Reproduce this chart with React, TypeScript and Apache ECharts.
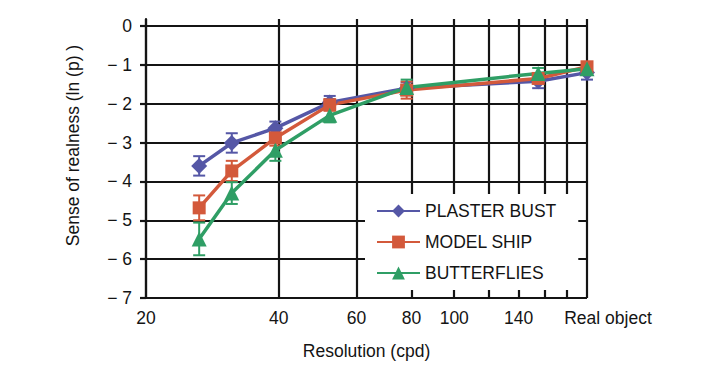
import React, { useEffect, useRef } from "react";
import * as echarts from "echarts";

// Resolution (cpd) of each condition; the last one is the real object
const resolutions = [26.4, 31.3, 39.3, 52.2, 78, 155, 200];
const xTickValues = [20, 40, 60, 80, 100, 120, 140, 160, 180, 200];
const xLabelValues = [20, 40, 60, 80, 100, 140, 200];
const realObjectLabel = "Real object";
const yTickValues = [-7, -6, -5, -4, -3, -2, -1, 0];

const seriesNames = ["PLASTER BUST", "MODEL SHIP", "BUTTERFLIES"];
const plasterBust = [-3.6, -3.01, -2.63, -1.97, -1.6, -1.42, -1.2];
const plasterBustErr = [0.25, 0.25, 0.17, 0.17, 0.15, 0.18, 0.18];
const modelShip = [-4.68, -3.73, -2.88, -2.03, -1.65, -1.35, -1.05];
const modelShipErr = [0.32, 0.26, 0.2, 0.15, 0.22, 0.1, 0.1];
const butterflies = [-5.48, -4.3, -3.2, -2.3, -1.58, -1.22, -1.1];
const butterfliesErr = [0.42, 0.28, 0.27, 0.18, 0.2, 0.14, 0.1];

const toLog = (v: number) => Math.log10(v);

export default function App() {
  const ref = useRef<HTMLDivElement>(null);
  useEffect(() => {
    const chart = echarts.init(ref.current!, null, { renderer: "svg" });
    const font = "'Liberation Sans', Arial, Helvetica, sans-serif";
    const ink = "#141414";
    const fs = 17.5;
    const colors = ["#5557a6", "#d3593b", "#2f9e65"];
    const symbols = ["diamond", "rect", "triangle"];
    const symbolSizes = [16, 13, 15];
    const values = [plasterBust, modelShip, butterflies];
    const errs = [plasterBustErr, modelShipErr, butterfliesErr];
    const xMin = toLog(20);
    const xMax = toLog(200);
    const EPS = 1e-9;
    const inX = (v: number) => Math.min(Math.max(toLog(v), xMin + EPS), xMax - EPS);

    const series: any[] = [];
    values.forEach((vals, i) => {
      series.push({
        type: "custom",
        name: seriesNames[i] + " error",
        silent: true,
        clip: false,
        renderItem: (params: any, api: any) => {
          const x = api.value(0);
          const lo = api.value(1);
          const hi = api.value(2);
          const pLo = api.coord([x, lo]);
          const pHi = api.coord([x, hi]);
          const half = 6;
          const style = { stroke: colors[i], lineWidth: 2 };
          return {
            type: "group",
            children: [
              { type: "line", shape: { x1: pLo[0], y1: pLo[1], x2: pHi[0], y2: pHi[1] }, style },
              { type: "line", shape: { x1: pLo[0] - half, y1: pLo[1], x2: pLo[0] + half, y2: pLo[1] }, style },
              { type: "line", shape: { x1: pHi[0] - half, y1: pHi[1], x2: pHi[0] + half, y2: pHi[1] }, style },
            ],
          };
        },
        encode: { x: 0, y: [1, 2] },
        data: vals.map((v, j) => [toLog(resolutions[j]), v - errs[i][j], v + errs[i][j]]),
      });
      series.push({
        type: "line",
        name: seriesNames[i],
        clip: false,
        data: vals.map((v, j) => [toLog(resolutions[j]), v]),
        symbol: symbols[i],
        symbolSize: symbolSizes[i],
        lineStyle: { color: colors[i], width: 3.5 },
        itemStyle: { color: colors[i] },
      });
    });

    chart.setOption({
      animation: false,
      backgroundColor: "#ffffff",
      textStyle: { fontFamily: font },
      grid: { left: 146, right: 114, top: 19, bottom: 83, containLabel: false, outerBoundsMode: "none" },
      legend: {
        data: seriesNames,
        orient: "vertical",
        left: 365,
        top: 194,
        backgroundColor: "#ffffff",
        padding: [8, 22, 8, 11],
        itemWidth: 43,
        itemHeight: 16,
        itemGap: 13,
        textStyle: { fontSize: fs, color: ink, fontFamily: font },
      },
      xAxis: {
        type: "value",
        min: xMin,
        max: xMax,
        name: "Resolution (cpd)",
        nameLocation: "middle",
        nameGap: 44,
        nameTextStyle: { fontSize: fs, color: ink, fontFamily: font },
        axisLine: { show: true, lineStyle: { color: ink, width: 2.2 } },
        axisTick: { show: false, customValues: xTickValues.map(inX) },
        splitLine: { show: true, lineStyle: { color: ink, width: 2.2 } },
        axisLabel: {
          customValues: xLabelValues.map(inX),
          margin: 11,
          fontSize: fs,
          color: ink,
          fontFamily: font,
          formatter: (v: number) => {
            const r = Math.round(Math.pow(10, v));
            return r >= 200 ? "{r|" + realObjectLabel + "}" : String(r);
          },
          rich: { r: { padding: [0, 0, 0, 42], fontSize: fs, color: ink, fontFamily: font } },
        },
      },
      yAxis: {
        type: "value",
        min: -7,
        max: 0.18,
        name: "Sense of realness (ln (p) )",
        nameLocation: "middle",
        nameGap: 64,
        nameTextStyle: { fontSize: fs, color: ink, fontFamily: font, padding: [0, 0, 0, 26] },
        axisLine: { show: true, lineStyle: { color: ink, width: 2.2 } },
        axisTick: { show: true, length: 6, customValues: yTickValues, lineStyle: { color: ink, width: 2.2 } },
        splitLine: { show: true, lineStyle: { color: ink, width: 2.2 } },
        axisLabel: {
          customValues: yTickValues,
          margin: 14,
          fontSize: fs,
          color: ink,
          fontFamily: font,
          formatter: (v: number) => (Math.abs(v) < 1e-9 ? "0" : "\u2212 " + Math.abs(Math.round(v))),
        },
      },
      series,
    });
    return () => chart.dispose();
  }, []);
  return (
    <div
      ref={ref}
      style={{ position: "fixed", left: 0, top: 0, width: 701, height: 381, background: "#fff" }}
    />
  );
}
